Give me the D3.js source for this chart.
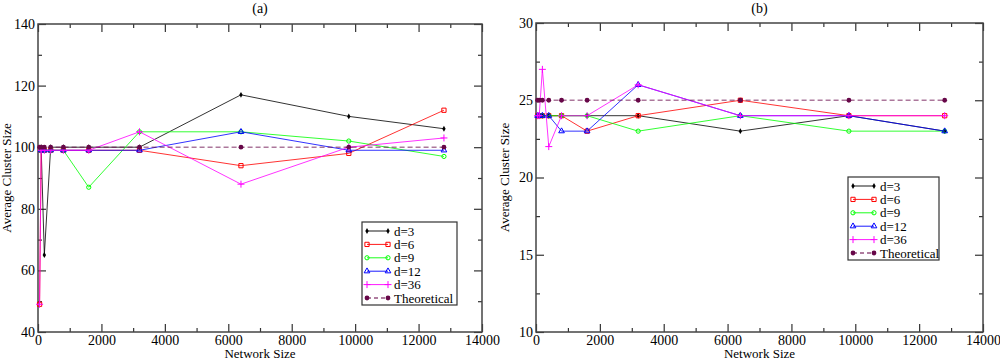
<!DOCTYPE html>
<html>
<head>
<meta charset="utf-8">
<script src="https://cdnjs.cloudflare.com/ajax/libs/d3/7.8.5/d3.min.js"></script>
<style>
body { margin: 0; background: #fff; }
svg text { font-family: "Liberation Serif", "DejaVu Serif", serif; fill: #000; }
</style>
</head>
<body>
<svg id="chart" width="1000" height="360"></svg>
<script>
// network sizes on the x axis (same for both panels)
var networkSizes = [50, 100, 200, 400, 800, 1600, 3200, 6400, 9800, 12800];
var seriesNames = ["d=3", "d=6", "d=9", "d=12", "d=36", "Theoretical"];

// panel (a) values, null = no point
var a_d3  = [null, 100, 65, 100, 100, 100, 100, 117, 110, 106];
var a_d6  = [49, 99, 99, 99, 99, 99, 99, 94, 98, 112];
var a_d9  = [null, 99, 99, 99, 99, 87, 105, 105, 102, 97];
var a_d12 = [null, 99, 99, 99, 99, 99, 99, 105, 99, 99];
var a_d36 = [49, 99, 99, 99, 99, 99, 105, 88, 100, 103];
var a_theo = [100, 100, 100, 100, 100, 100, 100, 100, 100, 100];

// panel (b) values
var b_d3  = [24, 24, 24, 24, 24, 24, 24, 23, 24, 23];
var b_d6  = [24, 24, 24, 24, 24, 23, 24, 25, 24, 24];
var b_d9  = [24, 24, 24, 24, 24, 24, 23, 24, 23, 23];
var b_d12 = [24, 24, 24, 24, 23, 23, 26, 24, 24, 23];
var b_d36 = [24, 24, 27, 22, 24, 24, 26, 24, 24, 24];
var b_theo = [25, 25, 25, 25, 25, 25, 25, 25, 25, 25];

var xTicks = [0, 2000, 4000, 6000, 8000, 10000, 12000, 14000];
var a_yTicks = [40, 60, 80, 100, 120, 140];
var b_yTicks = [10, 15, 20, 25, 30];

var svg = d3.select("#chart");

// xmgrace-ish look per series
var styles = [
    {color: "#000000", sym: "diamond", dash: null},
    {color: "#ff0000", sym: "square", dash: null},
    {color: "#00ff00", sym: "circle", dash: null},
    {color: "#0000ff", sym: "triangle", dash: null},
    {color: "#ff00ff", sym: "plus", dash: null},
    {color: "#670748", sym: "dot", dash: "5,3"}
];

var plusSymbol = {
    draw: function(ctx, size) {
        var r = Math.sqrt(size) / 2;
        ctx.moveTo(-r, 0); ctx.lineTo(r, 0);
        ctx.moveTo(0, -r); ctx.lineTo(0, r);
    }
};

function drawMarker(g, st, cx, cy) {
    var sym, size, fill, stroke;
    if (st.sym == "diamond") { sym = d3.symbolDiamond; size = 10; fill = st.color; stroke = "none"; }
    else if (st.sym == "square") { sym = d3.symbolSquare; size = 18; fill = "none"; stroke = st.color; }
    else if (st.sym == "circle") { sym = d3.symbolCircle; size = 14; fill = "none"; stroke = st.color; }
    else if (st.sym == "triangle") { sym = d3.symbolTriangle; size = 14; fill = "none"; stroke = st.color; }
    else if (st.sym == "plus") { sym = plusSymbol; size = 49; fill = "none"; stroke = st.color; }
    else { sym = d3.symbolCircle; size = 18; fill = st.color; stroke = "none"; }
    g.append("path")
        .attr("transform", "translate(" + cx + "," + cy + ")")
        .attr("d", d3.symbol().type(sym).size(size)())
        .attr("fill", fill)
        .attr("stroke", stroke)
        .attr("stroke-width", 1);
}

function drawPanel(cfg) {
    var x = d3.scaleLinear().domain([0, 14000]).range([cfg.left, cfg.right]);
    var y = d3.scaleLinear().domain(cfg.yDomain).range([cfg.bottom, cfg.top]);
    var g = svg.append("g");

    // ticks, all pointing inward
    g.append("g").attr("transform", "translate(0," + cfg.bottom + ")")
        .call(d3.axisBottom(x).tickValues(xTicks).tickSize(-8).tickPadding(3).tickFormat(d3.format("d")));
    g.append("g").attr("transform", "translate(0," + cfg.bottom + ")")
        .call(d3.axisBottom(x).tickValues(d3.range(1000, 14000, 2000)).tickSize(-4).tickFormat(""));
    g.append("g").attr("transform", "translate(0," + cfg.top + ")")
        .call(d3.axisTop(x).tickValues(xTicks).tickSize(-8).tickFormat(""));
    g.append("g").attr("transform", "translate(0," + cfg.top + ")")
        .call(d3.axisTop(x).tickValues(d3.range(1000, 14000, 2000)).tickSize(-4).tickFormat(""));
    g.append("g").attr("transform", "translate(" + cfg.left + ",0)")
        .call(d3.axisLeft(y).tickValues(cfg.yTicks).tickSize(-8).tickPadding(3));
    g.append("g").attr("transform", "translate(" + cfg.left + ",0)")
        .call(d3.axisLeft(y).tickValues(cfg.yMinor).tickSize(-4).tickFormat(""));
    g.append("g").attr("transform", "translate(" + cfg.right + ",0)")
        .call(d3.axisRight(y).tickValues(cfg.yTicks).tickSize(-8).tickFormat(""));
    g.append("g").attr("transform", "translate(" + cfg.right + ",0)")
        .call(d3.axisRight(y).tickValues(cfg.yMinor).tickSize(-4).tickFormat(""));

    g.selectAll(".domain").remove();
    g.selectAll("g").attr("font-family", null);
    g.selectAll(".tick line").attr("stroke", "#333").attr("stroke-width", 1.2);
    g.selectAll(".tick text").attr("font-size", 14).attr("fill", "#000");

    g.append("rect")
        .attr("x", cfg.left).attr("y", cfg.top)
        .attr("width", cfg.right - cfg.left).attr("height", cfg.bottom - cfg.top)
        .attr("fill", "none").attr("stroke", "#444").attr("stroke-width", 1.5);

    var line = d3.line()
        .defined(function(d) { return d[1] != null; })
        .x(function(d) { return x(d[0]); })
        .y(function(d) { return y(d[1]); });

    cfg.series.forEach(function(vals, i) {
        var st = styles[i];
        var pts = networkSizes.map(function(n, j) { return [n, vals[j]]; });
        g.append("path")
            .datum(pts)
            .attr("d", line)
            .attr("fill", "none")
            .attr("stroke", st.color)
            .attr("stroke-opacity", st.dash ? 0.55 : 0.8)
            .attr("stroke-width", st.dash ? 1.6 : 1)
            .attr("stroke-dasharray", st.dash);
        pts.forEach(function(p) {
            if (p[1] != null) drawMarker(g, st, x(p[0]), y(p[1]));
        });
    });

    // titles
    g.append("text")
        .attr("x", (cfg.left + cfg.right) / 2).attr("y", 13)
        .attr("text-anchor", "middle").attr("font-size", 14)
        .text(cfg.title);
    g.append("text")
        .attr("x", (cfg.left + cfg.right) / 2).attr("y", 358)
        .attr("text-anchor", "middle").attr("font-size", 13)
        .text("Network Size");
    g.append("text")
        .attr("transform", "translate(" + (cfg.left - 27) + "," + ((cfg.top + cfg.bottom) / 2) + ") rotate(-90)")
        .attr("text-anchor", "middle").attr("font-size", 13)
        .text("Average Cluster Size");

    // legend
    var lg = g.append("g").attr("transform", "translate(" + cfg.legendX + "," + cfg.legendY + ")");
    lg.append("rect")
        .attr("width", cfg.legendW).attr("height", 83)
        .attr("fill", "#fff").attr("stroke", "#333").attr("stroke-width", 1.2);
    seriesNames.forEach(function(name, i) {
        var st = styles[i];
        var ly = 9 + i * 13.4;
        lg.append("line")
            .attr("x1", 5).attr("x2", 26).attr("y1", ly).attr("y2", ly)
            .attr("stroke", st.color)
            .attr("stroke-opacity", st.dash ? 0.7 : 0.9)
            .attr("stroke-width", st.dash ? 1.4 : 1)
            .attr("stroke-dasharray", st.dash ? "4,3" : null);
        drawMarker(lg, st, 5, ly);
        drawMarker(lg, st, 26, ly);
        lg.append("text")
            .attr("x", 32).attr("y", ly + 4.5)
            .attr("font-size", 13)
            .text(name);
    });
}

drawPanel({
    title: "(a)", left: 38, right: 482, top: 24, bottom: 332,
    yDomain: [40, 140], yTicks: a_yTicks, yMinor: d3.range(50, 140, 20),
    series: [a_d3, a_d6, a_d9, a_d12, a_d36, a_theo],
    legendX: 362, legendY: 222, legendW: 95
});

drawPanel({
    title: "(b)", left: 536, right: 983, top: 23, bottom: 332,
    yDomain: [10, 30], yTicks: b_yTicks, yMinor: [12.5, 17.5, 22.5, 27.5],
    series: [b_d3, b_d6, b_d9, b_d12, b_d36, b_theo],
    legendX: 848, legendY: 177, legendW: 91
});
</script>
</body>
</html>
